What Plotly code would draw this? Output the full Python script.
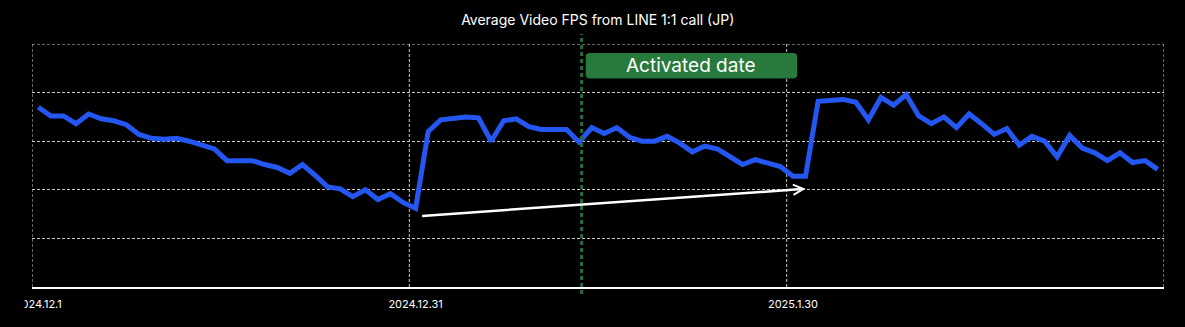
import datetime as dt
import plotly.graph_objects as go

# Daily dates, 2024-12-01 .. 2025-02-28
start = dt.date(2024, 12, 1)
dates = [start + dt.timedelta(days=k) for k in range(90)]
date_labels = [f"{d.year}.{d.month}.{d.day}" for d in dates]

# Average video FPS per day
fps = [
    18.5, 17.6, 17.6, 16.8, 17.8, 17.3, 17.1, 16.7, 15.7, 15.3,
    15.2, 15.3, 15.0, 14.6, 14.2, 13.0, 13.0, 13.0, 12.6, 12.3,
    11.7, 12.6, 11.5, 10.3, 10.1, 9.3, 10.0, 9.0, 9.6, 8.7,
    8.1, 16.0, 17.2, 17.3, 17.5, 17.4, 15.0, 17.1, 17.3, 16.5,
    16.2, 16.2, 16.2, 14.9, 16.4, 15.8, 16.4, 15.4, 15.0, 15.0,
    15.5, 14.8, 13.9, 14.5, 14.2, 13.4, 12.6, 13.1, 12.8, 12.4,
    11.4, 11.4, 19.1, 19.2, 19.3, 19.0, 17.2, 19.5, 18.7, 19.8,
    17.6, 16.8, 17.5, 16.4, 17.8, 16.8, 15.7, 16.3, 14.6, 15.5,
    15.0, 13.4, 15.6, 14.3, 13.8, 13.0, 13.8, 12.8, 13.0, 12.1,
]

tick_idx = [0, 30, 60]
tick_labels = [date_labels[k] for k in tick_idx]

activated_idx = 43.2          # activation moment on the category scale
trend_start = (30.4, 7.3)     # white trend arrow tail (index, fps)
trend_end = (61.0, 10.1)      # white trend arrow head (index, fps)

Y_MAX = 25
GRID = "#c8c8c8"
GRID_DASH = "3px,2px"
FONT = "Inter"

fig = go.Figure()
fig.add_trace(go.Scatter(
    x=date_labels, y=fps, mode="lines",
    line=dict(color="#2457f2", width=5),
    hoverinfo="skip",
))

shapes = []
# vertical dotted grid lines at category boundaries
n = len(date_labels)
for b in [k - 0.5 for k in tick_idx] + [n - 0.5]:
    shapes.append(dict(type="line", xref="x", yref="paper", x0=b, x1=b, y0=0, y1=1,
                       line=dict(color=GRID, width=1, dash=GRID_DASH), layer="below"))
# dotted top edge of the grid
shapes.append(dict(type="line", xref="paper", yref="y", x0=0, x1=1, y0=Y_MAX, y1=Y_MAX,
                   line=dict(color=GRID, width=1, dash=GRID_DASH), layer="below"))

# "Activated date" label box (rounded, in paper coords)
L, R, T, B = 32.3, 1164.3, 44.0, 287.0
W, H = R - L, B - T
def px(x):
    return (x - L) / W
def py(y):
    return (B - y) / H
bx0, bx1, by0, by1, rad = 586, 797.5, 53, 78.5, 4
path = (
    f"M{px(bx0 + rad)},{py(by0)} L{px(bx1 - rad)},{py(by0)} "
    f"Q{px(bx1)},{py(by0)} {px(bx1)},{py(by0 + rad)} "
    f"L{px(bx1)},{py(by1 - rad)} Q{px(bx1)},{py(by1)} {px(bx1 - rad)},{py(by1)} "
    f"L{px(bx0 + rad)},{py(by1)} Q{px(bx0)},{py(by1)} {px(bx0)},{py(by1 - rad)} "
    f"L{px(bx0)},{py(by0 + rad)} Q{px(bx0)},{py(by0)} {px(bx0 + rad)},{py(by0)} Z"
)
shapes.append(dict(type="path", xref="paper", yref="paper", path=path,
                   fillcolor="#287a3c", line=dict(width=0), layer="below"))

# activation marker line
shapes.append(dict(type="line", xref="x", yref="paper", x0=activated_idx, x1=activated_idx,
                   y0=py(294), y1=py(34), line=dict(color="#2b6a3b", width=3, dash="4px,3px"),
                   layer="above"))

# mask the left overflow of the first date label
shapes.append(dict(type="rect", xref="paper", yref="paper", x0=px(-20), x1=px(25),
                   y0=py(320), y1=py(290), fillcolor="#000000", line=dict(width=0),
                   layer="above"))

annotations = [
    dict(x=(px(bx0) + px(bx1)) / 2, y=(py(by0) + py(by1)) / 2, xref="paper", yref="paper",
         text="Activated date", showarrow=False, font=dict(family=FONT, size=19, color="white"),
         xanchor="center", yanchor="middle"),
    dict(x=trend_end[0], y=trend_end[1], xref="x", yref="y",
         ax=trend_start[0], ay=trend_start[1], axref="x", ayref="y",
         text="", showarrow=True, arrowhead=5, arrowsize=0.8, arrowwidth=2.5,
         arrowcolor="white", standoff=0),
]

fig.update_layout(
    width=1185, height=327,
    margin=dict(l=L, r=1185 - R, t=T, b=327 - B),
    paper_bgcolor="black", plot_bgcolor="black",
    showlegend=False,
    title=dict(text="Average Video FPS from LINE 1:1 call (JP)", x=px(598), xref="paper",
               xanchor="center", y=1 - 20 / 327, yanchor="middle",
               font=dict(family=FONT, size=14, color="white")),
    xaxis=dict(type="category", range=[-0.5, n - 0.5], tickvals=tick_labels, ticktext=tick_labels,
               showgrid=False, showline=True, linecolor="white", linewidth=2,
               ticks="outside", ticklen=6, tickcolor="rgba(0,0,0,0)",
               tickfont=dict(family=FONT, size=11, color="white"), zeroline=False),
    yaxis=dict(range=[0, Y_MAX], dtick=5, showgrid=True, gridcolor=GRID, griddash=GRID_DASH,
               gridwidth=1, showticklabels=False, zeroline=False, showline=False, ticks=""),
    shapes=shapes,
    annotations=annotations,
)

fig.write_html("out.html")
